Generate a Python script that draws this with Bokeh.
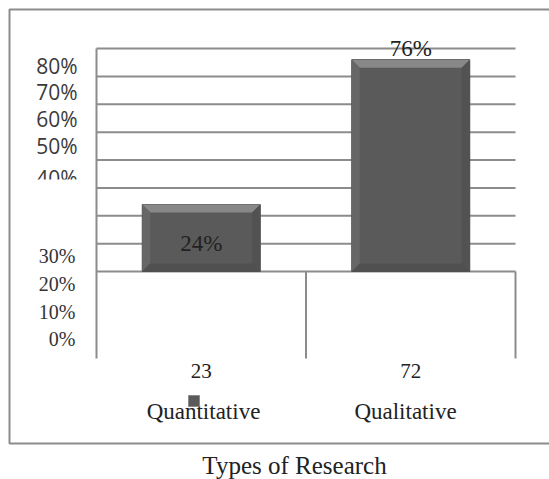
from bokeh.plotting import figure
from bokeh.models import Range1d
from bokeh.core.properties import value
from bokeh.embed import file_html
from bokeh.resources import INLINE

# ---------------- data ----------------
categories = ["Quantitative", "Qualitative"]
counts = ["23", "72"]
shares = [24, 76]
share_labels = ["24%", "76%"]
grid_values = [0, 10, 20, 30, 40, 50, 60, 70, 80]
upper_tick_labels = ["80%", "70%", "60%", "50%", "40%"]
lower_tick_labels = ["30%", "20%", "10%", "0%"]
x_title = "Types of Research"

# ---------------- layout (pixel geometry of the picture) ----------------
W, H = 549, 479
X0, CW = 96.0, 209.5          # left axis pixel, pixels per category
Y0, PPU = 271.0, 2.7875       # baseline pixel, pixels per percent


def X(px):
    return (px - X0) / CW


def Y(py):
    return (Y0 - py) / PPU


p = figure(width=W, height=H, output_backend="svg", toolbar_location=None,
           x_range=Range1d(X(0), X(W)), y_range=Range1d(Y(H), Y(0)),
           min_border=0, x_axis_location=None, y_axis_location=None)
p.grid.visible = False
p.outline_line_color = None
p.background_fill_color = "white"
p.border_fill_color = "white"

SERIF = value("Liberation Serif")
SANS = value("Open Sans")
grey_line = "#8c8c8c"

# outer frame
p.quad(left=[X(9)], right=[X(620)], top=[Y(9)], bottom=[Y(443)],
       fill_color=None, line_color=grey_line, line_width=2)

# horizontal grid lines (0..80 %)
n = len(categories)
p.segment(x0=[0] * len(grid_values), x1=[n] * len(grid_values),
          y0=grid_values, y1=grid_values, line_color=grey_line, line_width=2)

# value axis line and category separators
axis_bottom = Y(358)
p.segment(x0=[0], x1=[0], y0=[grid_values[-1]], y1=[axis_bottom],
          line_color=grey_line, line_width=2)
p.segment(x0=list(range(1, n + 1)), x1=list(range(1, n + 1)),
          y0=[0] * n, y1=[axis_bottom] * n, line_color=grey_line, line_width=2)

# bars with a soft bevel
half = 0.5 * 118 / CW
bx, by = 8 / CW, 8 / PPU
centers = [i + 0.5 for i in range(n)]
lefts = [c - half for c in centers]
rights = [c + half for c in centers]
p.quad(left=lefts, right=rights, top=shares, bottom=[0] * n,
       fill_color="#5a5a5a", line_color="#505050", line_width=1)
top_x, top_y, left_x, left_y, right_x, right_y, bot_x, bot_y = ([] for _ in range(8))
for l, r, t in zip(lefts, rights, shares):
    top_x.append([l, r, r - bx, l + bx]); top_y.append([t, t, t - by, t - by])
    left_x.append([l, l + bx, l + bx, l]); left_y.append([t, t - by, by, 0])
    right_x.append([r, r - bx, r - bx, r]); right_y.append([t, t - by, by, 0])
    bot_x.append([l, l + bx, r - bx, r]); bot_y.append([0, by, by, 0])
p.patches(top_x, top_y, fill_color="#888888", line_color=None)
p.patches(left_x, left_y, fill_color="#666666", line_color=None)
p.patches(right_x, right_y, fill_color="#525252", line_color=None)
p.patches(bot_x, bot_y, fill_color="#505050", line_color=None)

# value labels on the bars
label_y = [Y(243), Y(48)]
p.text(x=centers, y=label_y, text=share_labels, text_font=SERIF,
       text_font_size="23px", text_color="#222222",
       text_align="center", text_baseline="middle")

# value-axis labels (as drawn in the picture)
upper_py = [65, 91, 118, 145, 177]
p.text(x=[X(77)] * len(upper_tick_labels), y=[Y(v) for v in upper_py],
       text=upper_tick_labels, text_font=SANS, text_font_size="21px",
       text_color="#3a3a3a", text_align="right", text_baseline="middle")
# the last upper label is cut off at its bottom
p.quad(left=[X(25)], right=[X(90)], top=[Y(179)], bottom=[Y(198)],
       fill_color="white", line_color=None)

lower_py = [255, 283, 311, 338]
p.text(x=[X(75)] * len(lower_tick_labels), y=[Y(v) for v in lower_py],
       text=lower_tick_labels, text_font=SERIF, text_font_size="20px",
       text_color="#333333", text_align="right", text_baseline="middle")

# category labels: counts and names
p.text(x=centers, y=[Y(370)] * n, text=counts, text_font=SERIF,
       text_font_size="21px", text_color="#222222",
       text_align="center", text_baseline="middle")
p.text(x=[X(203), X(405)], y=[Y(411)] * n, text=categories, text_font=SERIF,
       text_font_size="23px", text_color="#222222",
       text_align="center", text_baseline="middle")

# small legend key
p.quad(left=[X(188)], right=[X(199)], top=[Y(395)], bottom=[Y(406)],
       fill_color="#5a5a5a", line_color="#8a8a8a", line_width=1)

# axis title below the frame
p.text(x=[X(294)], y=[Y(465)], text=[x_title], text_font=SERIF,
       text_font_size="25px", text_color="#222222",
       text_align="center", text_baseline="middle")

open("out.html", "w").write(file_html(p, INLINE))
